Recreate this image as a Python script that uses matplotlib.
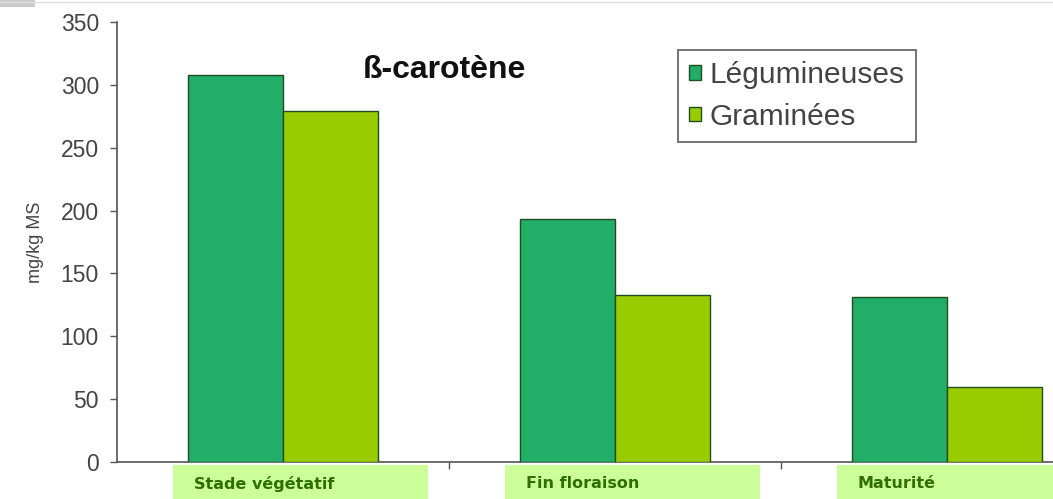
import matplotlib
matplotlib.use("Agg")
import matplotlib.pyplot as plt
import numpy as np
from matplotlib.patches import Rectangle
from matplotlib.lines import Line2D

categories = ["Stade végétatif", "Fin floraison", "Maturité"]
series_names = ["Légumineuses", "Graminées"]
legumineuses = [308, 193, 131]
graminees = [279, 133, 60]
yticks = [0, 50, 100, 150, 200, 250, 300, 350]
title = "ß-carotène"
ylabel = "mg/kg MS"

col_leg = "#22ae68"
col_gram = "#99cc00"
edge = "#1f4d1f"

plt.rcParams["font.family"] = ["Liberation Sans", "DejaVu Sans"]

W, H = 1053, 499
fig = plt.figure(figsize=(W / 100, H / 100), dpi=100)
ax = fig.add_axes([117 / W, 37 / H, 996 / W, 440 / H])

x = np.arange(len(categories))
bw = 0.286
ax.bar(x - bw / 2, legumineuses, width=bw, color=col_leg, edgecolor=edge, linewidth=1.0, label=series_names[0], zorder=3)
ax.bar(x + bw / 2, graminees, width=bw, color=col_gram, edgecolor=edge, linewidth=1.0, label=series_names[1], zorder=3)

ax.set_xlim(-0.5, len(categories) - 0.5)
ax.set_ylim(0, 350)
ax.set_yticks(yticks)
ax.set_yticklabels([str(v) for v in yticks], fontsize=16.5, color="#444444")
ax.tick_params(axis="y", direction="out", length=5, width=1, color="#555555", pad=8)
ax.set_xticks([0.5, 1.5])
ax.set_xticklabels(["", ""])
ax.tick_params(axis="x", direction="out", length=5, width=1, color="#555555")

for s in ["top", "right"]:
    ax.spines[s].set_visible(False)
ax.spines["left"].set_color("#555555")
ax.spines["bottom"].set_color("#555555")
ax.spines["left"].set_linewidth(1.2)
ax.spines["bottom"].set_linewidth(1.2)

ax.set_ylabel(ylabel, fontsize=13, color="#444444", labelpad=12)

# category label boxes
for i, cat in enumerate(categories):
    bx = i - 0.5 + 56 / 332
    ax.add_patch(Rectangle((bx, -0.007), 255 / 332, -0.2, transform=ax.get_xaxis_transform(),
                           facecolor="#ccff99", edgecolor="none", clip_on=False, zorder=4))
    ax.text(bx + 21 / 332, -22 / 440, cat, transform=ax.get_xaxis_transform(),
            ha="left", va="center", fontsize=11.5, fontweight="bold", color="#2f6f00",
            family="DejaVu Sans", zorder=5)

ax.text(444 / W, (H - 70) / H, title, transform=fig.transFigure, ha="center", va="center",
        fontsize=23, fontweight="bold", color="#111111")

leg = ax.legend(loc="upper left", bbox_to_anchor=((678 - 117) / 996, (462 - 50) / 440),
                fontsize=21.5, frameon=True, fancybox=False, edgecolor="#444444",
                handlelength=0.38, handleheight=0.38, handletextpad=0.3, borderpad=0.38,
                labelspacing=0.45, borderaxespad=0)
leg.get_frame().set_linewidth(1.3)
for t in leg.get_texts():
    t.set_color("#444444")

fig.add_artist(Line2D([0, 1], [1 - 1.5 / H, 1 - 1.5 / H], transform=fig.transFigure, color="#dddddd", lw=1))
fig.add_artist(Rectangle((0, 1 - 7 / H), 35 / W, 7 / H, transform=fig.transFigure, facecolor="#cccccc", edgecolor="none"))

fig.savefig("out.png", dpi=100)
